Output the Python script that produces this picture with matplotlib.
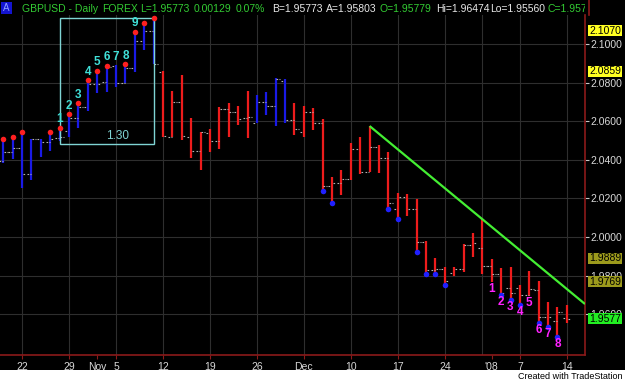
import matplotlib
matplotlib.use('Agg')
import matplotlib.pyplot as plt
from matplotlib.patches import Rectangle
from matplotlib.transforms import blended_transform_factory

plt.rcParams['font.family'] = ['Liberation Sans', 'DejaVu Sans']

# ---------------- data ----------------
opens = [2.0394, 2.0442, 2.0461, 2.0327, 2.0506, 2.0494, 2.0511, 2.0549, 2.0618, 2.0675,
         2.0791, 2.0803, 2.0886, 2.0800, 2.0874, 2.1016, 2.1067, 2.0856, 2.0520, 2.0701,
         2.0516, 2.0446, 2.0537, 2.0499, 2.0662, 2.0649, 2.0615, 2.0592, 2.0701, 2.0679,
         2.0808, 2.0606, 2.0543, 2.0649, 2.0589, 2.0264, 2.0278, 2.0299, 2.0454, 2.0338,
         2.0465, 2.0408, 2.0144, 2.0206, 2.0144, 1.9976, 1.9829, 1.9833, 1.9812, 1.9833,
         1.9959, 1.9941, 1.9850, 1.9809, 1.9737, 1.9734, 1.9700, 1.9725, 1.9584, 1.9566,
         1.9578]
highs = [2.0510, 2.0516, 2.0543, 2.0506, 2.0508, 2.0546, 2.0567, 2.0636, 2.0693, 2.0813,
         2.0862, 2.0888, 2.0889, 2.0896, 2.1064, 2.1109, 2.1133, 2.0862, 2.0758, 2.0839,
         2.0615, 2.0546, 2.0558, 2.0675, 2.0696, 2.0679, 2.0758, 2.0736, 2.0750, 2.0825,
         2.0817, 2.0696, 2.0679, 2.0668, 2.0610, 2.0309, 2.0347, 2.0486, 2.0517, 2.0575,
         2.0477, 2.0442, 2.0226, 2.0223, 2.0196, 1.9981, 1.9890, 1.9845, 1.9846, 1.9962,
         2.0019, 2.0092, 1.9884, 1.9838, 1.9846, 1.9751, 1.9825, 1.9774, 1.9665, 1.9636,
         1.9647]
lows = [2.0386, 2.0403, 2.0252, 2.0295, 2.0416, 2.0447, 2.0500, 2.0520, 2.0563, 2.0653,
        2.0745, 2.0753, 2.0779, 2.0796, 2.0853, 2.0969, 2.0895, 2.0520, 2.0520, 2.0503,
        2.0412, 2.0347, 2.0442, 2.0454, 2.0520, 2.0579, 2.0511, 2.0592, 2.0632, 2.0575,
        2.0592, 2.0528, 2.0518, 2.0554, 2.0240, 2.0178, 2.0218, 2.0295, 2.0327, 2.0338,
        2.0333, 2.0144, 2.0092, 2.0109, 1.9921, 1.9809, 1.9809, 1.9751, 1.9798, 1.9820,
        1.9898, 1.9809, 1.9768, 1.9700, 1.9674, 1.9648, 1.9694, 1.9553, 1.9535, 1.9483,
        1.9556]
closes = [2.0442, 2.0461, 2.0327, 2.0506, 2.0494, 2.0506, 2.0520, 2.0618, 2.0675, 2.0791,
          2.0793, 2.0881, 2.0800, 2.0874, 2.1016, 2.1067, 2.0895, 2.0522, 2.0701, 2.0521,
          2.0446, 2.0546, 2.0499, 2.0662, 2.0649, 2.0610, 2.0620, 2.0701, 2.0679, 2.0817,
          2.0606, 2.0558, 2.0649, 2.0589, 2.0264, 2.0278, 2.0299, 2.0454, 2.0338, 2.0465,
          2.0408, 2.0175, 2.0206, 2.0144, 1.9976, 1.9829, 1.9833, 1.9772, 1.9833, 1.9959,
          1.9967, 1.9850, 1.9809, 1.9711, 1.9708, 1.9700, 1.9729, 1.9587, 1.9584, 1.9613,
          1.9577]
bar_dir = ['b'] * 17 + ['r'] * 10 + ['b'] * 4 + ['r'] * 30

high_dot_idx = [0, 1, 2, 5, 6, 7, 8, 9, 10, 11, 13, 14, 15, 16]
low_dot_idx = [34, 35, 41, 42, 44, 45, 46, 47, 53, 54, 55, 57, 58, 59]

sell_count_idx = [6, 7, 8, 9, 10, 11, 12, 13, 14]
buy_count_idx = [52, 53, 54, 55, 56, 57, 58, 59]

box_x = [6.04, 16.07]
box_y = [2.0480, 2.1135]
box_label = "1.30"
box_label_pos = (12.2, 2.0523)

trend_x = [39, 61.93]
trend_y = [2.0575, 1.9653]

xtick_idx = [2, 7, 10, 12, 17, 22, 27, 32, 37, 42, 47, 52, 55, 60]
xtick_lbl = ['22', '29', 'Nov', '5', '12', '19', '26', 'Dec', '10', '17', '24', "'08", '7', '14']
vgrid_idx = [2, 7, 12, 17, 22, 27, 32, 37, 42, 47, 51, 55, 60]

y_ticks = [1.96, 1.98, 2.00, 2.02, 2.04, 2.06, 2.08, 2.10]

marker_prices = [2.1070, 2.0859, 1.9889, 1.9769, 1.9577]
marker_colors = ['#ffff22', '#ffff22', '#9c9a1c', '#9c9a1c', '#22ee22']

header_parts = [
    (22, "GBPUSD - Daily", '#33cc33'), (102, "FOREX", '#33cc33'),
    (140, "L=1.95773", '#33cc33'), (194, "0.00129", '#33cc33'), (236, "0.07%", '#33cc33'),
    (272, "B=1.95773", '#e8e8e8'), (326, "A=1.95803", '#e8e8e8'),
    (380, "O=1.95779", '#33cc33'), (436, "Hi=1.96474", '#e8e8e8'),
    (490, "Lo=1.95560", '#e8e8e8'), (548, "C=1.95777", '#33cc33'),
]

# ---------------- figure ----------------
W, H = 625, 383
fig = plt.figure(figsize=(W / 100, H / 100), dpi=100, facecolor='black')
PL, PR, PT, PB = 0, 585, 15, 355
ax = fig.add_axes([PL / W, 1 - PB / H, (PR - PL) / W, (PB - PT) / H])
ax.set_facecolor('black')
ax.set_xlim(-0.35, 61.93)
ax.set_ylim(1.93889, 2.11503)

grid_c = '#2e2e2e'
for yv in y_ticks:
    ax.axhline(yv, color=grid_c, lw=0.8, zorder=0)
for xv in vgrid_idx:
    ax.axvline(xv, color=grid_c, lw=0.8, zorder=0)

col = {'b': '#1a1ae6', 'r': '#ee1c1c'}
n = len(opens)
for i in range(n):
    ax.vlines(i, lows[i], highs[i], color=col[bar_dir[i]], lw=1.6, zorder=2)
    ax.hlines(opens[i], i - 0.45, i - 0.08, color='#b4b4b4', lw=0.8,
              linestyles=(0, (1.5, 1.2)), zorder=3)
    ax.hlines(closes[i], i + 0.08, i + 0.45, color='#b4b4b4', lw=0.8,
              linestyles=(0, (1.5, 1.2)), zorder=3)

ax.plot(high_dot_idx, [highs[i] for i in high_dot_idx], 'o', color='#ff2020',
        ms=4, mec='none', zorder=5)
ax.plot(low_dot_idx, [lows[i] for i in low_dot_idx], 'o', color='#2020ff',
        ms=4, mec='none', zorder=5)

for k, i in enumerate(sell_count_idx):
    ax.annotate(str(k + 1), (i, highs[i]), xytext=(0, 6), textcoords='offset points',
                ha='center', va='center', color='#40e0d8', fontsize=8.5,
                fontweight='bold', zorder=6)
for k, i in enumerate(buy_count_idx):
    ax.annotate(str(k + 1), (i, lows[i]), xytext=(0, -5), textcoords='offset points',
                ha='center', va='center', color='#ff22ff', fontsize=8.5,
                fontweight='bold', zorder=6)

ax.add_patch(Rectangle((box_x[0], box_y[0]), box_x[1] - box_x[0], box_y[1] - box_y[0],
                       fill=False, ec='#7fd4d4', lw=1, zorder=4))
ax.text(box_label_pos[0], box_label_pos[1], box_label, color='#7fd4d4', fontsize=8.5,
        ha='center', va='center', zorder=6)

ax.plot(trend_x, trend_y, color='#44ee33', lw=1.6, zorder=4, solid_capstyle='butt')

# axes styling
for s in ['top', 'left']:
    ax.spines[s].set_visible(False)
for s in ['bottom', 'right']:
    ax.spines[s].set_color('#8b1a1a')
    ax.spines[s].set_linewidth(1.2)

ax.set_xticks(xtick_idx)
ax.set_xticklabels(xtick_lbl)
ax.tick_params(axis='x', colors='#d8d8d8', color='#8b1a1a', length=3, pad=2, labelsize=7.5)

ax.yaxis.tick_right()
ax.set_yticks(y_ticks)
ax.set_yticklabels(['%.4f' % v for v in y_ticks])
ax.tick_params(axis='y', colors='#d8d8d8', color='#c8c8c8', length=3, pad=1, labelsize=7.5)

# highlighted price markers on the right scale
bt = blended_transform_factory(ax.transAxes, ax.transData)
y0, y1 = ax.get_ylim()
dpp = (y1 - y0) / (PB - PT)
for p, c in zip(marker_prices, marker_colors):
    ax.add_patch(Rectangle((588 / PR, p - 5.5 * dpp), 34 / PR, 11 * dpp, transform=bt,
                           facecolor=c, edgecolor='none', clip_on=False, zorder=10))
    ax.text(605 / PR, p, '%.4f' % p, transform=bt, ha='center', va='center',
            fontsize=7.5, color='black', clip_on=False, zorder=11)

# bottom white band
fig.patches.append(Rectangle((0, 0), 1, 13 / H, transform=fig.transFigure,
                             facecolor='white', edgecolor='none', zorder=0))
fig.text(622 / W, 6.5 / H, 'Created with TradeStation', ha='right', va='center',
         fontsize=6.5, color='black')

# header
fig.patches.append(Rectangle((1 / W, 1 - 14 / H), 11 / W, 12 / H, transform=fig.transFigure,
                             facecolor='#1414d0', edgecolor='none'))
fig.text(6.5 / W, 1 - 8 / H, 'A', ha='center', va='center', fontsize=7,
         color='#8fa0ff')
clip = Rectangle((0, 0), 585 / W, 1, transform=fig.transFigure)
for x, t, c in header_parts:
    tx = fig.text(x / W, 1 - 8.5 / H, t, ha='left', va='center', fontsize=7.5, color=c)
    tx.set_clip_path(clip)
fig.add_artist(plt.Line2D([589 / W, 589 / W], [1 - 15 / H, 1], transform=fig.transFigure,
                          color='#8b1a1a', lw=1.2))

fig.savefig('out.png', dpi=100, facecolor='black')
